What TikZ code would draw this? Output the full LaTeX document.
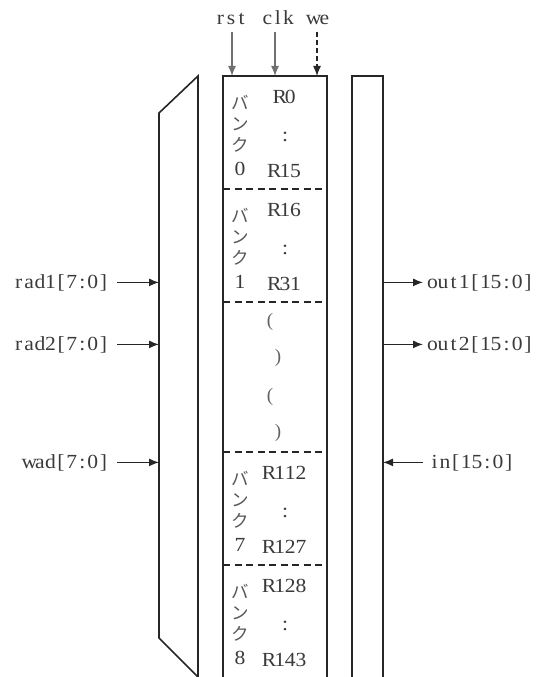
\documentclass[tikz,border=0pt]{standalone}
\usepackage{fontspec}
\setmainfont{Liberation Serif}
\newfontfamily\latf[FakeStretch=1.08]{Liberation Serif}
\newfontfamily\jpf{Noto Sans CJK JP}
\usetikzlibrary{arrows.meta}
\definecolor{ink}{HTML}{262626}
\definecolor{txt}{HTML}{3A3A3A}
\definecolor{gry}{HTML}{707070}
% half-width monospaced setting of serif text
\def\monoiter#1{\ifx#1\relax\else\makebox[10.6pt][c]{#1}\expandafter\monoiter\fi}
\newcommand\mt[1]{\monoiter#1\relax}
\tikzset{
  box/.style={draw=ink, line width=1.6pt},
  sep/.style={draw=ink, line width=1.3pt, dash pattern=on 7pt off 4.5pt},
  sig/.style={draw=ink, line width=1.3pt, -{Latex[length=10pt,width=8pt]}},
  gsig/.style={draw=gry, line width=1.3pt, -{Latex[length=10pt,width=8pt]}},
  dsig/.style={draw=ink, line width=1.3pt, dash pattern=on 5pt off 3pt, -{Latex[length=10pt,width=8pt]}},
  lab/.style={font=\latf\fontsize{20}{23}\selectfont, text=txt, inner sep=0pt},
  jp/.style={font=\jpf\fontsize{17.5}{20}\selectfont, text=txt!85, inner sep=0pt},
  paren/.style={font=\fontsize{19}{22}\selectfont, text=txt!80, inner sep=0pt},
}
\begin{document}
\begin{tikzpicture}[x=1pt,y=-1pt]
\useasboundingbox (0,0) rectangle (536,677);
\clip (0,0) rectangle (536,677);
% key coordinates
\coordinate (muxL) at (159,0);
\coordinate (boxT) at (0,76);
\coordinate (rbR) at (383,0);
% multiplexer
\draw[box, line join=miter] (159,113) -- (198,76) -- (198,677) -- (159,638) -- cycle;
% register file box
\draw[box] (223,690) -- (223,76) -- (327,76) -- (327,690);
% output box
\draw[box] (352,690) -- (352,76) -- (383,76) -- (383,690);
% bank separators
\foreach \y in {189,302,452,565} \draw[sep] (223,\y) -- (327,\y);
% banks
\foreach \t/\n/\a/\b in {76/0/R0/R15, 189/1/R16/R31, 452/7/R112/R127, 565/8/R128/R143}{
  \node[jp] (ba\n) at (240,\t+26) {バ};
  \node[jp] (bn\n) at (240,\t+48) {ン};
  \node[jp] (bk\n) at (240,\t+69) {ク};
  \node[lab, anchor=base] (bd\n) at (240,\t+99) {\n};
  \node[lab, anchor=base] (rt\n) at (285,\t+27) {\expandafter\mt\expandafter{\a}};
  \node[lab] (rc\n) at (285,\t+61) {:};
  \node[lab, anchor=base] (rb\n) at (285,\t+101) {\expandafter\mt\expandafter{\b}};
}
% omitted banks
\node[paren] (p1) at (270,322) {(};
\node[paren] (p2) at (278,358) {)};
\node[paren] (p3) at (270,397) {(};
\node[paren] (p4) at (278,433) {)};
% top signals
\node[lab, anchor=base] (rst) at (231,25) {\mt{rst}};
\node[lab, anchor=base] (clk) at (278,25) {\mt{clk}};
\node[lab, anchor=base] (we) at (319,25) {\mt{we}};
\coordinate (rstP) at (232,0);
\coordinate (clkP) at (275,0);
\coordinate (weP) at (317,0);
\draw[gsig] (rstP |- 0,32) -- (rstP |- boxT);
\draw[gsig] (clkP |- 0,32) -- (clkP |- boxT);
\draw[dsig] (weP |- 0,32) -- (weP |- boxT);
% left inputs
\node[lab, anchor=base east] (rad1) at (109,288) {\mt{rad1[7:0]}};
\node[lab, anchor=base east] (rad2) at (109,350) {\mt{rad2[7:0]}};
\node[lab, anchor=base east] (wad) at (109,468) {\mt{wad[7:0]}};
\foreach \s in {rad1,rad2,wad}
  \draw[sig, shorten <=8pt] (\s.east) -- (\s.east -| muxL);
% right side
\node[lab, anchor=base west] (out1) at (427,288) {\mt{out1[15:0]}};
\node[lab, anchor=base west] (out2) at (427,350) {\mt{out2[15:0]}};
\node[lab, anchor=base west] (in) at (429,468) {\mt{in[15:0]}};
\foreach \s in {out1,out2}
  \draw[sig, shorten >=4pt] (\s.west -| rbR) -- (\s.west);
\draw[sig, shorten <=6pt] (in.west) -- (in.west -| rbR);
\end{tikzpicture}
\end{document}
